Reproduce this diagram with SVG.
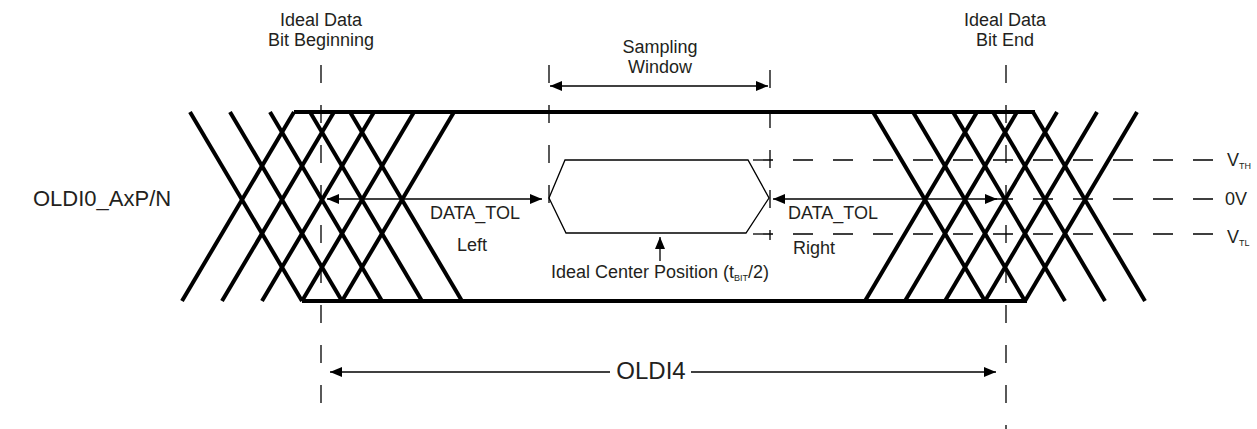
<svg xmlns="http://www.w3.org/2000/svg" width="1257" height="429" viewBox="0 0 1257 429">
<style>
text{font-family:"Liberation Sans",Arial,sans-serif;font-size:18px;fill:#231f20}
.w{stroke:#000;stroke-width:4;fill:none}
.d{stroke:#000;stroke-width:1.3;fill:none;stroke-dasharray:18 22}
.h{stroke:#000;stroke-width:1.3;fill:none;stroke-dasharray:20 20}
.a{stroke:#000;stroke-width:1.3;fill:none}
</style>
<defs>
<marker id="ah" viewBox="0 0 12 10" refX="12" refY="5" markerWidth="12" markerHeight="10" orient="auto-start-reverse" markerUnits="userSpaceOnUse"><path d="M0,0 L12,5 L0,10 z" fill="#000"/></marker>
</defs>
<g id="waveform">
<line class="w" x1="294" y1="112" x2="1035" y2="112"/>
<line class="w" x1="302" y1="301" x2="1027" y2="301"/>
<g id="left-transitions">
<line class="w" x1="182" y1="301" x2="294" y2="112"/>
<line class="w" x1="222" y1="301" x2="334" y2="112"/>
<line class="w" x1="262" y1="301" x2="374" y2="112"/>
<line class="w" x1="302" y1="301" x2="414" y2="112"/>
<line class="w" x1="342" y1="301" x2="454" y2="112"/>
<line class="w" x1="190" y1="112" x2="302" y2="301"/>
<line class="w" x1="230" y1="112" x2="342" y2="301"/>
<line class="w" x1="270" y1="112" x2="382" y2="301"/>
<line class="w" x1="310" y1="112" x2="422" y2="301"/>
<line class="w" x1="350" y1="112" x2="462" y2="301"/>
</g>
<g id="right-transitions">
<line class="w" x1="865" y1="301" x2="977" y2="112"/>
<line class="w" x1="905" y1="301" x2="1017" y2="112"/>
<line class="w" x1="945" y1="301" x2="1057" y2="112"/>
<line class="w" x1="985" y1="301" x2="1097" y2="112"/>
<line class="w" x1="1025" y1="301" x2="1137" y2="112"/>
<line class="w" x1="873" y1="112" x2="985" y2="301"/>
<line class="w" x1="913" y1="112" x2="1025" y2="301"/>
<line class="w" x1="953" y1="112" x2="1065" y2="301"/>
<line class="w" x1="993" y1="112" x2="1105" y2="301"/>
<line class="w" x1="1033" y1="112" x2="1145" y2="301"/>
</g>
</g>
<g id="sampling-eye">
<polygon points="549,198 565,160 748,160 769,198 746,233 566,233" fill="none" stroke="#000" stroke-width="1.3"/>
</g>
<g id="connectors">
<line class="d" x1="321" y1="65" x2="321" y2="403"/>
<line class="d" x1="1006" y1="65" x2="1006" y2="429"/>
<line class="d" x1="549" y1="65" x2="549" y2="203"/>
<line class="d" x1="770" y1="70" x2="770" y2="240"/>
<line class="h" x1="753" y1="160" x2="1213" y2="160"/>
<line class="h" x1="993" y1="199" x2="1213" y2="199"/>
<line class="h" x1="753" y1="234" x2="1213" y2="234"/>
<line class="a" x1="550" y1="86" x2="768" y2="86" marker-start="url(#ah)" marker-end="url(#ah)"/>
<line class="a" x1="327" y1="199" x2="542" y2="199" marker-start="url(#ah)" marker-end="url(#ah)"/>
<line class="a" x1="773" y1="199" x2="997" y2="199" marker-start="url(#ah)" marker-end="url(#ah)"/>
<line class="a" x1="660" y1="261" x2="660" y2="237" marker-end="url(#ah)"/>
<line class="a" x1="610" y1="372" x2="330" y2="372" marker-end="url(#ah)"/>
<line class="a" x1="691" y1="372" x2="996" y2="372" marker-end="url(#ah)"/>
</g>
<g id="labels">
<text x="321" y="26" text-anchor="middle">Ideal Data</text>
<text x="321" y="46" text-anchor="middle">Bit Beginning</text>
<text x="1005" y="26" text-anchor="middle">Ideal Data</text>
<text x="1005" y="46" text-anchor="middle">Bit End</text>
<text x="660" y="53" text-anchor="middle">Sampling</text>
<text x="660" y="73" text-anchor="middle">Window</text>
<text x="33" y="206" style="font-size:22px">OLDI0_AxP/N</text>
<text x="430" y="219">DATA_TOL</text>
<text x="457" y="251">Left</text>
<text x="788" y="219">DATA_TOL</text>
<text x="793" y="254">Right</text>
<text x="660" y="278" text-anchor="middle">Ideal Center Position (t<tspan style="font-size:9px" dy="3">BIT</tspan><tspan dy="-3">/2)</tspan></text>
<text x="651" y="379" text-anchor="middle" style="font-size:24px">OLDI4</text>
<text x="1227" y="166">V<tspan style="font-size:9px" dy="3">TH</tspan></text>
<text x="1225" y="205">0V</text>
<text x="1227" y="243">V<tspan style="font-size:9px" dy="3">TL</tspan></text>
</g>
</svg>
